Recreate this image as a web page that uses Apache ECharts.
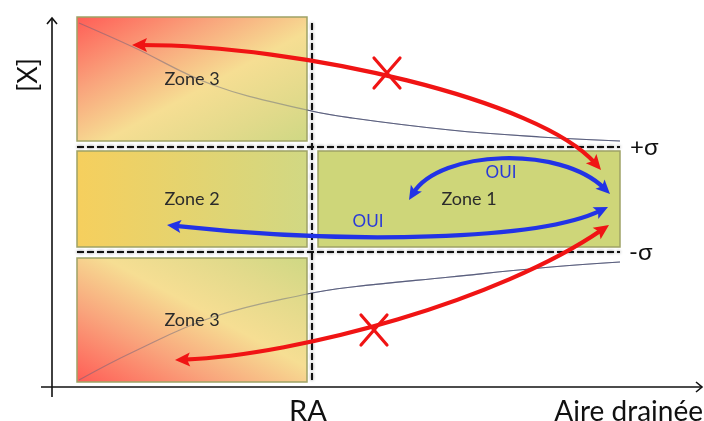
<!DOCTYPE html>
<html><head><meta charset="utf-8">
<script src="https://cdn.jsdelivr.net/npm/echarts@6/dist/echarts.min.js"></script>
<style>html,body{margin:0;padding:0;background:#fff}#c{width:704px;height:421px}</style>
</head><body><div id="c"></div>
<script>
// ---- Data (diagram units: x = aire drainée, y = [X]) ----
const zoneNames = ['Zone 3', 'Zone 2', 'Zone 1', 'Zone 3'];
const zoneKind  = ['haut', 'milieu', 'centre', 'bas'];
const zoneX0 = [25, 25, 266, 25];
const zoneX1 = [255, 255, 568, 255];
const zoneY0 = [246, 140, 140, 5];
const zoneY1 = [370, 236, 236, 129];

const sigmaLevels = [240, 135];      // +σ , -σ
const sigmaXRange = [25, 568];
const raX = 260;
const raYRange = [5, 364];

const curveUpX   = [27, 81, 161, 255, 300, 398, 488, 568];
const curveUpY   = [364, 340, 302, 277, 269, 257, 250, 246];
const curveDownX = [27, 81, 161, 255, 300, 398, 488, 568];
const curveDownY = [7, 35, 70, 93, 100, 110, 119, 125];

const arrowNames = ['rouge haut', 'rouge bas', 'bleu arc', 'bleu long'];
const arrowKind  = ['rouge', 'rouge', 'bleu', 'bleu'];
const arrowPts = [
  [[549, 217], [488, 287], [248, 342], [80, 342]],
  [[123, 27], [248, 32], [448, 87], [557, 162]],
  [[357, 187], [388, 237], [508, 242], [558, 193]],
  [[556, 180], [488, 147], [298, 142], [115, 162]]
];
const crossX = [335, 322];
const crossY = [314, 57];

const annotTexts = ['[X]', 'RA', 'Aire drainée', '+σ', '-σ', 'OUI', 'OUI'];
const annotKind  = ['axeY', 'ra', 'axeX', 'sigma', 'sigma', 'oui', 'oui'];
const annotX = [-24, 256, 651, 578, 577, 449, 316];
const annotY = [312, -25, -25, 240, 135, 214, 165];

const axisXRange = [-11, 650];
const axisYRange = [-10, 369];

// ---- Styles ----
const FONT = 'Lato, "Open Sans", sans-serif';
const diagStops = [
  {offset: 0, color: '#ff5d56'}, {offset: 0.3, color: '#f9a47c'},
  {offset: 0.56, color: '#f6de93'}, {offset: 0.8, color: '#e2da8b'}, {offset: 1, color: '#cfd884'}];
const zoneFill = {
  milieu: {type: 'linear', x: 0, y: 0, x2: 1, y2: 0, colorStops: [
    {offset: 0, color: '#f6cf5d'}, {offset: 1, color: '#d1d883'}]},
  centre: '#ced679'
};
function diagGradient(x, y, w, h, fromBottom) {
  // gradient whose iso-lines run along the opposite diagonal of the rectangle
  const k = 2 * w * h / (w * w + h * h);
  if (!fromBottom) {
    return {type: 'linear', global: true, x: x, y: y, x2: x + h * k, y2: y + w * k, colorStops: diagStops};
  }
  return {type: 'linear', global: true, x: x, y: y + h, x2: x + h * k, y2: y + h - w * k, colorStops: diagStops};
}
const arrowColor = {rouge: '#f01414', bleu: '#2233e6'};
const annotStyle = {
  axeY: {fontSize: 27, fill: '#111', align: 'center', verticalAlign: 'middle', rotation: Math.PI / 2},
  ra: {fontSize: 29, fill: '#111', align: 'center', verticalAlign: 'middle', rotation: 0},
  axeX: {fontSize: 28, fill: '#111', align: 'right', verticalAlign: 'middle', rotation: 0},
  sigma: {fontSize: 24, fill: '#111', align: 'left', verticalAlign: 'middle', rotation: 0},
  oui: {fontSize: 17, fill: '#2a3ad8', align: 'center', verticalAlign: 'middle', rotation: 0}
};

const chart = echarts.init(document.getElementById('c'), null, {renderer: 'canvas'});

function lineEl(a, b, style) {
  return {type: 'line', shape: {x1: a[0], y1: a[1], x2: b[0], y2: b[1]}, style: style};
}

const option = {
  animation: false,
  backgroundColor: '#fff',
  grid: {left: 36, right: 2, top: 17, bottom: 22},
  xAxis: {type: 'value', min: -16, max: 650, show: false},
  yAxis: {type: 'value', min: -12, max: 370, show: false},
  series: [
    // axes
    {type: 'custom', z: 1, silent: true, data: [[0, 0]],
      renderItem: (params, api) => {
        const st = {stroke: '#111', lineWidth: 1.6, fill: 'none'};
        const xa = api.coord([axisXRange[0], 0]), xb = api.coord([axisXRange[1], 0]);
        const ya = api.coord([0, axisYRange[0]]), yb = api.coord([0, axisYRange[1]]);
        return {type: 'group', children: [
          lineEl(xa, xb, st), lineEl(ya, yb, st),
          {type: 'polyline', shape: {points: [[xb[0] - 6, xb[1] - 5], xb, [xb[0] - 6, xb[1] + 5]]}, style: st},
          {type: 'polyline', shape: {points: [[yb[0] - 5, yb[1] + 6], yb, [yb[0] + 5, yb[1] + 6]]}, style: st}
        ]};
      }},
    // curves (under zones)
    {type: 'line', z: 1, silent: true, smooth: 0.4, symbol: 'none',
      data: curveUpX.map((x, i) => [x, curveUpY[i]]),
      lineStyle: {color: '#5a5f7e', width: 1.2}},
    {type: 'line', z: 1, silent: true, smooth: 0.4, symbol: 'none',
      data: curveDownX.map((x, i) => [x, curveDownY[i]]),
      lineStyle: {color: '#5a5f7e', width: 1.2}},
    // zones
    {type: 'custom', z: 3, silent: true,
      data: zoneNames.map((n, i) => ({name: n, value: [zoneX0[i], zoneY0[i]]})),
      renderItem: (params, api) => {
        const i = params.dataIndex;
        const p0 = api.coord([zoneX0[i], zoneY1[i]]);
        const p1 = api.coord([zoneX1[i], zoneY0[i]]);
        const w = p1[0] - p0[0], h = p1[1] - p0[1];
        let fill = zoneFill[zoneKind[i]];
        if (zoneKind[i] === 'haut') fill = diagGradient(p0[0], p0[1], w, h, false);
        if (zoneKind[i] === 'bas') fill = diagGradient(p0[0], p0[1], w, h, true);
        return {type: 'rect',
          shape: {x: p0[0], y: p0[1], width: w, height: h},
          style: {fill: fill, stroke: '#9fa266', lineWidth: 1.5}};
      }},
    // curves overlay (seen through zones)
    {type: 'line', z: 4, silent: true, smooth: 0.4, symbol: 'none',
      data: curveUpX.map((x, i) => [x, curveUpY[i]]),
      lineStyle: {color: 'rgba(90,95,126,0.45)', width: 1.2}},
    {type: 'line', z: 4, silent: true, smooth: 0.4, symbol: 'none',
      data: curveDownX.map((x, i) => [x, curveDownY[i]]),
      lineStyle: {color: 'rgba(90,95,126,0.45)', width: 1.2}},
    // dashed lines
    {type: 'custom', z: 5, silent: true, data: [[raX, 0]],
      renderItem: (params, api) => {
        const st = {stroke: '#111', lineWidth: 2, lineDash: [7, 3],
          shadowBlur: 3, shadowColor: 'rgba(0,0,0,0.5)'};
        const children = sigmaLevels.map(y =>
          lineEl(api.coord([sigmaXRange[0], y]), api.coord([sigmaXRange[1], y]), st));
        children.push(lineEl(api.coord([raX, raYRange[1]]), api.coord([raX, raYRange[0]]), st));
        return {type: 'group', children: children};
      }},
    // zone labels
    {type: 'custom', z: 6, silent: true,
      data: zoneNames.map((n, i) => ({name: n, value: [(zoneX0[i] + zoneX1[i]) / 2, (zoneY0[i] + zoneY1[i]) / 2]})),
      renderItem: (params, api) => {
        const i = params.dataIndex;
        const c = api.coord([(zoneX0[i] + zoneX1[i]) / 2, (zoneY0[i] + zoneY1[i]) / 2]);
        return {type: 'text', x: c[0], y: c[1],
          style: {text: zoneNames[i], fontSize: 18, fontFamily: FONT, fill: '#2b2b2b',
            align: 'center', verticalAlign: 'middle'}};
      }},
    // arrows
    {type: 'custom', z: 10, silent: true,
      data: arrowNames.map((n, i) => ({name: n, value: arrowPts[i][0]})),
      renderItem: (params, api) => {
        const i = params.dataIndex;
        const P = arrowPts[i].map(p => api.coord(p));
        const col = arrowColor[arrowKind[i]];
        const L = arrowKind[i] === 'rouge' ? 15 : 14;
        const W = arrowKind[i] === 'rouge' ? 14 : 13;
        function head(tip, from) {
          const dx = tip[0] - from[0], dy = tip[1] - from[1];
          const len = Math.hypot(dx, dy), ux = dx / len, uy = dy / len;
          const bx = tip[0] - ux * L, by = tip[1] - uy * L;
          return {
            el: {type: 'polygon', shape: {points: [tip,
              [bx - uy * W / 2, by + ux * W / 2],
              [bx + ux * 3, by + uy * 3],
              [bx + uy * W / 2, by - ux * W / 2]]}, style: {fill: col}},
            back: [tip[0] - ux * L * 0.6, tip[1] - uy * L * 0.6]
          };
        }
        const h0 = head(P[0], P[1]);
        const h3 = head(P[3], P[2]);
        return {type: 'group', children: [
          {type: 'bezierCurve', shape: {x1: h0.back[0], y1: h0.back[1], cpx1: P[1][0], cpy1: P[1][1],
            cpx2: P[2][0], cpy2: P[2][1], x2: h3.back[0], y2: h3.back[1]},
            style: {stroke: col, lineWidth: 4.2, fill: 'none'}},
          h0.el, h3.el
        ]};
      }},
    // red crosses
    {type: 'custom', z: 11, silent: true,
      data: crossX.map((x, i) => [x, crossY[i]]),
      renderItem: (params, api) => {
        const i = params.dataIndex;
        const c = api.coord([crossX[i], crossY[i]]);
        const st = {stroke: '#f01414', lineWidth: 3.2, lineCap: 'round'};
        return {type: 'group', children: [
          lineEl([c[0] - 13, c[1] - 15], [c[0] + 13, c[1] + 15], st),
          lineEl([c[0] + 13, c[1] - 15], [c[0] - 13, c[1] + 15], st)
        ]};
      }},
    // annotations
    {type: 'custom', z: 12, silent: true,
      data: annotTexts.map((t, i) => ({name: t, value: [annotX[i], annotY[i]]})),
      renderItem: (params, api) => {
        const i = params.dataIndex;
        const c = api.coord([annotX[i], annotY[i]]);
        const s = annotStyle[annotKind[i]];
        return {type: 'text', x: c[0], y: c[1], rotation: s.rotation,
          style: {text: annotTexts[i], fontSize: s.fontSize, fontFamily: FONT, fill: s.fill,
            align: s.align, verticalAlign: s.verticalAlign}};
      }}
  ]
};
chart.setOption(option);
</script>
</body></html>
